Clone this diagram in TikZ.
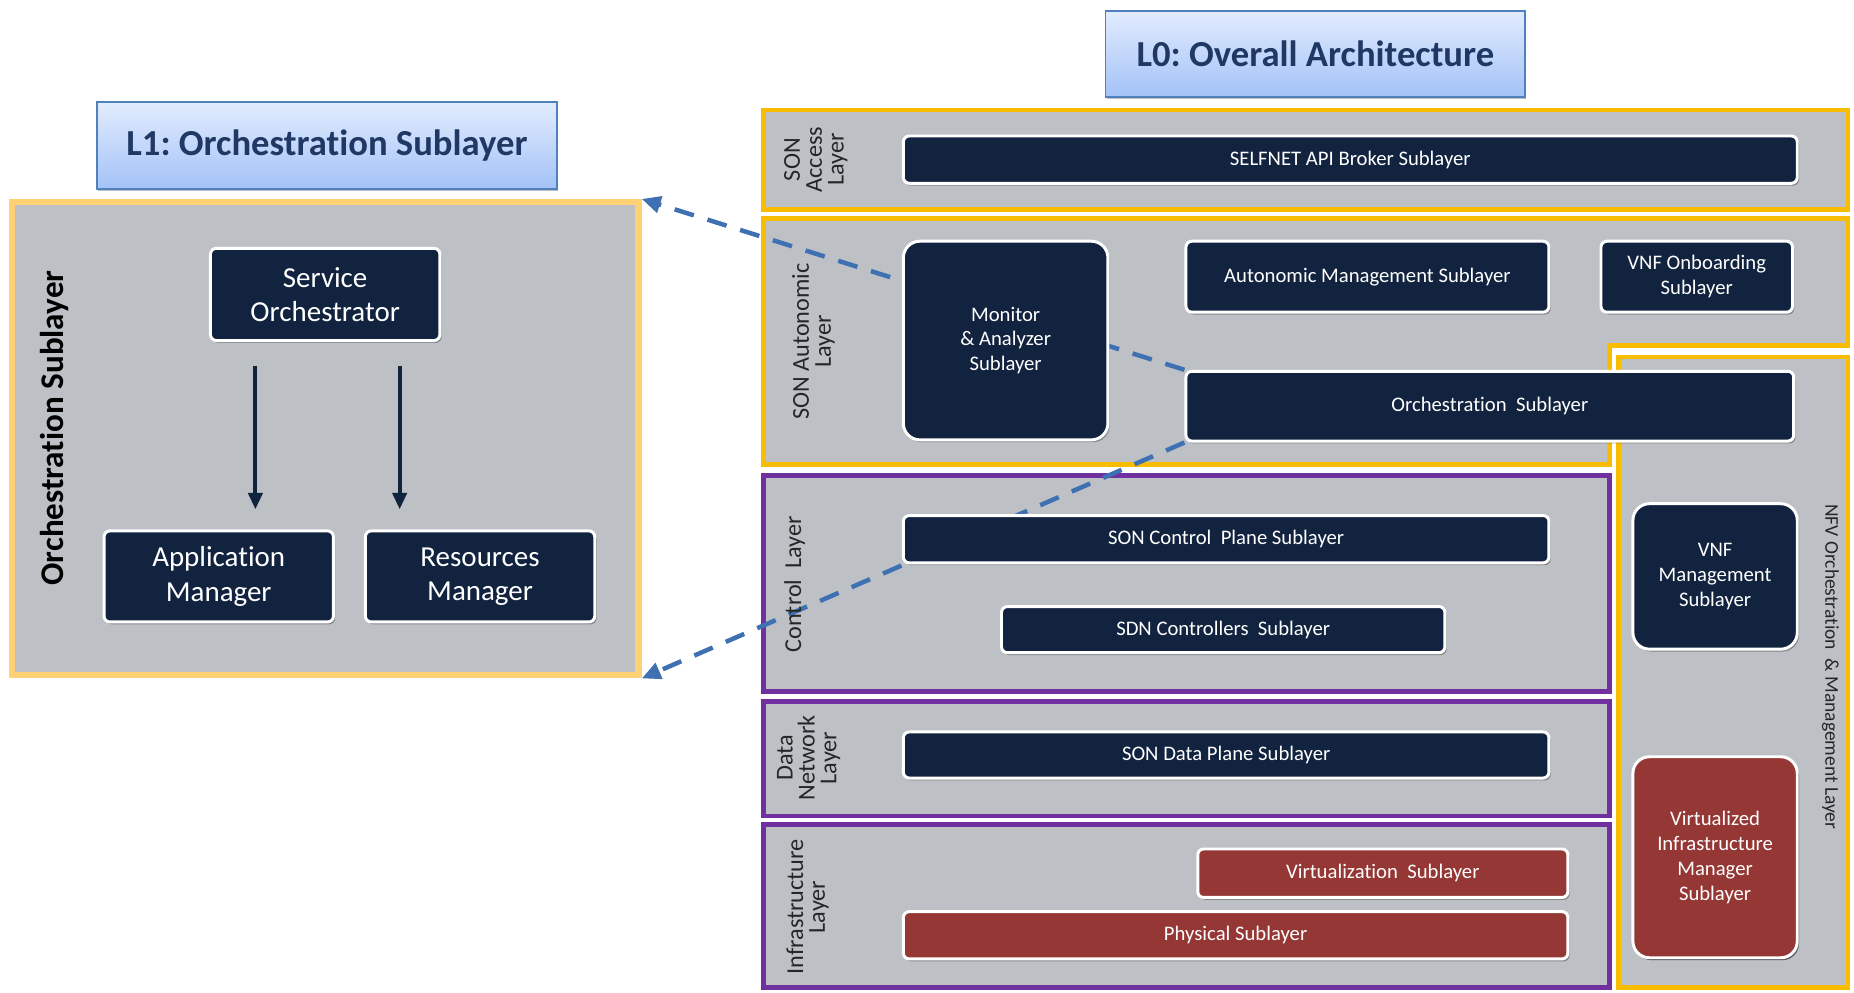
\documentclass[tikz,border=0pt]{standalone}
\usepackage{fontspec}
\setmainfont{Carlito}[Ligatures=NoCommon]
\frenchspacing
\usetikzlibrary{arrows.meta,shadows}

\definecolor{navy}{HTML}{12233F}
\definecolor{brick}{HTML}{943735}
\definecolor{panel}{HTML}{BDC1C6}
\definecolor{paleorange}{HTML}{FFD175}
\definecolor{amber}{HTML}{F8BC00}
\definecolor{violet}{HTML}{7030A0}
\definecolor{linkblue}{HTML}{3E70B2}
\definecolor{titletext}{HTML}{1F3864}
\definecolor{titleedge}{HTML}{4F81BD}
\definecolor{titletop}{HTML}{E2ECFE}
\definecolor{titlebot}{HTML}{A3C2F7}
\definecolor{labeltext}{HTML}{262626}

\pgfdeclarelayer{frames}
\pgfdeclarelayer{links}
\pgfsetlayers{frames,links,main}

\tikzset{
  box/.style={draw=white, line width=2.5pt, rounded corners=5pt, fill=navy,
    text=white, align=center, inner sep=2pt,
    font=\fontsize{17.5}{21}\selectfont,
    drop shadow={shadow xshift=1.5pt, shadow yshift=-2pt, opacity=0.3, fill=black}},
  roundbox/.style={box, rounded corners=14pt},
  redbox/.style={box, fill=brick},
  bigbox/.style={box, font=\fontsize{24.5}{29}\selectfont},
  titlebox/.style={draw=titleedge, line width=1.5pt, top color=titletop,
    bottom color=titlebot, text=titletext, font=\bfseries\fontsize{31}{36}\selectfont,
    drop shadow={shadow xshift=1pt, shadow yshift=-1.5pt, opacity=0.25, fill=black}},
  frameA/.style={draw=amber, line width=4pt, fill=panel},
  frameV/.style={draw=violet, line width=4pt, fill=panel},
  layerlbl/.style={text=labeltext, align=center, inner sep=0pt,
    font=\fontsize{20.5}{18.5}\selectfont},
  navyarrow/.style={draw=navy, line width=3.3pt, -{Triangle[width=12pt,length=14pt]}},
  link/.style={draw=linkblue, line width=3.8pt, dash pattern=on 17pt off 12pt,
    -{Triangle[width=14pt,length=16pt]}},
}

\begin{document}
\begin{tikzpicture}[x=1pt,y=-1pt]
\useasboundingbox (0,0) rectangle (1568,839);

% ---------- L1 panel ----------
\node[titlebox, minimum width=389, minimum height=74] (l1title) at (276.5,123)
  {L1: Orchestration Sublayer};

\begin{pgfonlayer}{frames}
  \node[draw=paleorange, line width=5.5pt, fill=panel, minimum width=530,
    minimum height=400, inner sep=0pt,
    drop shadow={shadow xshift=1.5pt, shadow yshift=-2pt, opacity=0.2, fill=black}]
    (l1frame) at (275,371) {};
\end{pgfonlayer}

\node[rotate=90, font=\bfseries\fontsize{28}{30}\selectfont, text=black]
  (l1lbl) at (46,362) {Orchestration Sublayer};

\node[bigbox, minimum width=194, minimum height=78] (so) at (275,249)
  {Service\\Orchestrator};
\node[bigbox, minimum width=194, minimum height=77] (am) at (185,487.5)
  {Application\\Manager};
\node[bigbox, minimum width=194, minimum height=77] (rm) at (406,487.5)
  {Resources\\Manager};

\coordinate (a1s) at ([xshift=-59pt,yshift=-20pt]so.south);
\coordinate (a1e) at ([xshift=31pt,yshift=17pt]am.north);
\coordinate (a2s) at ([xshift=63pt,yshift=-20pt]so.south);
\coordinate (a2e) at ([xshift=-68pt,yshift=17pt]rm.north);
\draw[navyarrow] (a1s) -- (a1e);
\draw[navyarrow] (a2s) -- (a2e);

% ---------- L0 panel ----------
\node[titlebox, minimum width=355, minimum height=73] (l0title) at (1112.5,45.5)
  {L0: Overall Architecture};

\begin{pgfonlayer}{frames}
  \draw[frameA] (646,93) rectangle (1563,177);
  \draw[frameA] (646,185) -- (1563,185) -- (1563,292) -- (1361,292)
    -- (1361,393) -- (646,393) -- cycle;
  \draw[frameA] (1369,302) rectangle (1563,835);
  \draw[frameV] (646,402) rectangle (1361,585);
  \draw[frameV] (646,593) rectangle (1361,690);
  \draw[frameV] (646,697) rectangle (1361,835);
\end{pgfonlayer}

% layer captions
\node[layerlbl, rotate=90] (lblaccess) at (690,135) {SON\\Access\\Layer};
\node[layerlbl, rotate=90] (lblauto) at (688,289) {SON Autonomic\\Layer};
\node[layerlbl, rotate=90] (lblctrl) at (672,494) {Control~ Layer};
\node[layerlbl, rotate=90] (lbldata) at (684,641) {Data\\Network\\Layer};
\node[layerlbl, rotate=90] (lblinfra) at (683,767) {Infrastructure\\Layer};
\node[layerlbl, rotate=-90, font=\fontsize{16.5}{18}\selectfont] (lblnfv) at (1548,564)
  {NFV Orchestration~ \& Management Layer};

% sublayers
\node[box, minimum width=756, minimum height=40] (selfnet) at (1142,135)
  {SELFNET API Broker Sublayer};
\node[roundbox, minimum width=173, minimum height=168] (monitor) at (850.5,288)
  {Monitor\\\& Analyzer\\Sublayer};
\node[box, minimum width=307, minimum height=60] (autom) at (1156.5,234)
  {Autonomic Management Sublayer};
\node[box, minimum width=162, minimum height=60] (onboard) at (1435,234)
  {VNF Onboarding\\Sublayer};
\node[box, minimum width=514, minimum height=59] (orch) at (1260,343.5)
  {Orchestration~ Sublayer};
\node[box, minimum width=546, minimum height=40] (sonctrl) at (1037,456)
  {SON Control~ Plane Sublayer};
\node[box, minimum width=375, minimum height=39] (sdnctrl) at (1034.5,532.5)
  {SDN Controllers~ Sublayer};
\node[box, minimum width=546, minimum height=39] (dataplane) at (1037,638.5)
  {SON Data Plane Sublayer};
\node[redbox, minimum width=313, minimum height=41] (virt) at (1169.5,738.5)
  {Virtualization~ Sublayer};
\node[redbox, minimum width=562, minimum height=40] (phys) at (1045,791)
  {Physical Sublayer};
\node[roundbox, minimum width=139, minimum height=123] (vnfm) at (1450.5,487.5)
  {VNF\\Management\\Sublayer};
\node[roundbox, redbox, rounded corners=14pt, minimum width=139, minimum height=170]
  (vim) at (1450.5,725)
  {Virtualized\\Infrastructure\\Manager\\Sublayer};

% zoom-in links from the orchestration sublayer to the L1 panel
\begin{pgfonlayer}{links}
  \draw[link] (orch.north west) -- (l1frame.north east);
  \draw[link] (orch.south west) -- (l1frame.south east);
\end{pgfonlayer}
\end{tikzpicture}
\end{document}
